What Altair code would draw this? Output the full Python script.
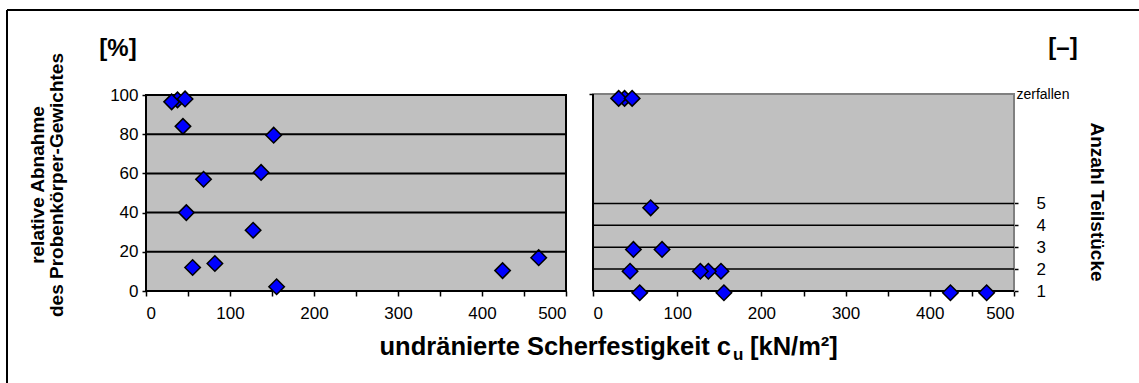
import altair as alt
import pandas as pd

# Undrained shear strength c_u [kN/m²] of each specimen
cu = [37.5, 30.5, 46.5, 44, 152, 137, 68.5, 48, 127.5, 55.5, 82, 155.5, 424.5, 467.5]
# Relative loss of specimen weight [%]
weight_loss = [97.5, 96.5, 98, 84, 79.5, 60.5, 57, 40, 31, 12, 14, 2.2, 10.4, 17]
# Number of fragments (10 = "zerfallen")
pieces = [9.8, 9.8, 9.8, 1.9, 1.9, 1.9, 4.8, 2.9, 1.9, 0.92, 2.9, 0.92, 0.92, 0.92]

cu_ticks = [0, 50, 100, 150, 200, 250, 300, 350, 400, 450, 500]
loss_ticks = [0, 20, 40, 60, 80, 100]
loss_grid = [20, 40, 60, 80]
piece_ticks = [1, 2, 3, 4, 5, 10]
piece_grid = [2, 3, 4, 5]

FONT = "Liberation Sans"
W, H = 1139, 383

samples = pd.DataFrame({"cu": cu, "loss": weight_loss, "pieces": pieces})
one = pd.DataFrame({"k": [0]})

# Explicit pixel ranges place the two panels side by side
X_L = alt.Scale(domain=[0, 500], range=[146, 566], nice=False, zero=False)
X_R = alt.Scale(domain=[0, 500], range=[593, 1014], nice=False, zero=False)
Y_L = alt.Scale(domain=[0, 100], range=[291, 95], nice=False, zero=False)
Y_R = alt.Scale(domain=[1, 10], range=[291, 94], nice=False, zero=False)


def cu_axis():
    return alt.Axis(
        orient="bottom", offset=-(H - 291), values=cu_ticks,
        labelExpr="datum.value % 100 === 0 ? datum.label : ''",
        domain=False, grid=False, tickSize=5, tickWidth=1.5, tickColor="#000000",
        labelFont=FONT, labelFontSize=17, labelColor="#000000", labelPadding=9,
        labelFlush=True, labelOverlap=False, title=None,
    )


loss_axis = alt.Axis(
    orient="left", offset=-146, values=loss_ticks,
    domain=False, grid=False, tickSize=4, tickWidth=1.5, tickColor="#000000",
    labelFont=FONT, labelFontSize=17, labelColor="#000000", labelPadding=4,
    labelOverlap=False, title=None,
)

piece_axis = alt.Axis(
    orient="right", offset=-(W - 1014), values=piece_ticks,
    labelExpr="datum.value == 10 ? 'zerfallen' : datum.label",
    domain=False, grid=False, tickWidth=1.5, tickColor="#000000",
    tickSize={"condition": {"test": "datum.value == 10", "value": 0}, "value": 4},
    labelFont=FONT, labelColor="#000000",
    labelFontSize={"condition": {"test": "datum.value == 10", "value": 14}, "value": 17},
    labelPadding={"condition": {"test": "datum.value == 10", "value": 2}, "value": 18},
    labelOverlap=False, title=None,
)

# Inner left axis of the fragment panel: only a tick at the top
piece_left_axis = alt.Axis(
    orient="left", offset=-593, values=[10], labels=False, domain=False, grid=False,
    tickSize=4, tickWidth=1.5, tickColor="#000000", title=None,
)

diamond = dict(shape="diamond", filled=True, fill="#0000FF", stroke="#000000",
               strokeWidth=1.5, size=240, opacity=1)

# Outer frame
frame_top = alt.Chart(one).mark_rule(color="#000000", strokeWidth=2).encode(
    x=alt.value(7), x2=alt.value(W), y=alt.value(10))
frame_left = alt.Chart(one).mark_rule(color="#000000", strokeWidth=2).encode(
    x=alt.value(7), y=alt.value(10), y2=alt.value(H))

# Left panel: weight loss
bg_l = alt.Chart(one).mark_rect(fill="#C0C0C0", stroke="#000000", strokeWidth=2).encode(
    x=alt.XDatum(0, scale=X_L, axis=None), x2=alt.X2Datum(500),
    y=alt.YDatum(0, scale=Y_L, axis=None), y2=alt.Y2Datum(100))
grid_l = alt.Chart(pd.DataFrame({"v": loss_grid})).mark_rule(color="#000000", strokeWidth=2).encode(
    x=alt.XDatum(0, scale=X_L, axis=None), x2=alt.X2Datum(500),
    y=alt.Y("v:Q", scale=Y_L, axis=None))
pts_l = alt.Chart(samples).mark_point(**diamond).encode(
    x=alt.X("cu:Q", scale=X_L, axis=cu_axis()),
    y=alt.Y("loss:Q", scale=Y_L, axis=loss_axis))

# Right panel: number of fragments
bg_r = alt.Chart(one).mark_rect(fill="#C0C0C0", stroke="#808080", strokeWidth=2).encode(
    x=alt.XDatum(0, scale=X_R, axis=None), x2=alt.X2Datum(500),
    y=alt.YDatum(1, scale=Y_R, axis=None), y2=alt.Y2Datum(10))
grid_r = alt.Chart(pd.DataFrame({"v": piece_grid})).mark_rule(color="#000000", strokeWidth=1.5).encode(
    x=alt.XDatum(0, scale=X_R, axis=None), x2=alt.X2Datum(500),
    y=alt.Y("v:Q", scale=Y_R, axis=None))
edge_rl = alt.Chart(one).mark_rule(color="#000000", strokeWidth=2).encode(
    x=alt.XDatum(0, scale=X_R, axis=None),
    y=alt.YDatum(1, scale=Y_R, axis=piece_left_axis), y2=alt.Y2Datum(10))
edge_rb = alt.Chart(one).mark_rule(color="#000000", strokeWidth=2).encode(
    x=alt.XDatum(0, scale=X_R, axis=None), x2=alt.X2Datum(500),
    y=alt.YDatum(1, scale=Y_R, axis=None))
pts_r = alt.Chart(samples).mark_point(**diamond).encode(
    x=alt.X("cu:Q", scale=X_R, axis=cu_axis()),
    y=alt.Y("pieces:Q", scale=Y_R, axis=piece_axis))


def label(text, x, y, size, weight="bold", angle=0, align="center", baseline="middle"):
    return alt.Chart(one).mark_text(
        text=text, font=FONT, fontSize=size, fontWeight=weight, angle=angle,
        align=align, baseline=baseline, color="#000000",
    ).encode(x=alt.value(x), y=alt.value(y))


texts = [
    label("[%]", 118, 49, 24),
    label("[–]", 1063, 48, 24),
    label("relative Abnahme", 38, 185, 19, angle=270),
    label("des Probenkörper-Gewichtes", 57, 185, 19, angle=270),
    label("Anzahl Teilstücke", 1097, 202, 19, angle=90),
    label("undränierte Scherfestigkeit c", 731, 355, 25.5, align="right", baseline="alphabetic"),
    label("u", 733, 360, 17, align="left", baseline="alphabetic"),
    label("[kN/m²]", 750, 355, 25.5, align="left", baseline="alphabetic"),
]

chart = alt.layer(
    frame_top, frame_left,
    bg_l, grid_l, pts_l,
    bg_r, grid_r, edge_rl, edge_rb, pts_r,
    *texts,
).resolve_scale(
    x="independent", y="independent"
).properties(
    width=W, height=H, padding=0,
    autosize=alt.AutoSizeParams(type="none"),
    background="#FFFFFF",
).configure_view(strokeWidth=0)

chart.save("out.html", embed_options={"renderer": "svg", "actions": False})
